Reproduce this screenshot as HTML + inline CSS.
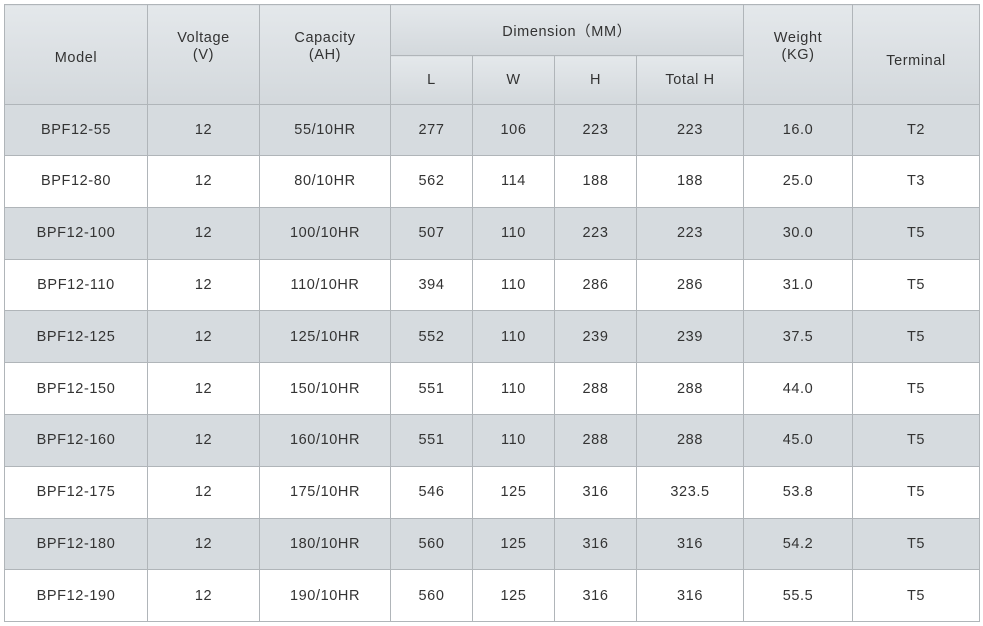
<!DOCTYPE html>
<html><head><meta charset="utf-8"><style>
body{margin:0;background:#fff;width:983px;height:626px;overflow:hidden;font-family:"Liberation Sans","DejaVu Sans",sans-serif;}
table{position:absolute;left:4px;top:4px;border-collapse:collapse;table-layout:fixed;width:975px;color:#333;font-size:14.5px;letter-spacing:0.6px;}
td,th{border:1px solid #b0b5b9;text-align:center;padding:0;font-weight:normal;}
thead th{background:linear-gradient(#e4e8eb,#d3d8dc);}
th.top{vertical-align:top;padding-top:25px;line-height:17px;}
th.mid{padding-top:6px;}
th.term{padding-top:12px;}
tbody tr.g td{background:#d6dbdf;}
tbody tr td{height:50px;}
tbody tr{border-bottom:1.5px solid #a8adb1;}
</style></head><body>
<table>
<colgroup><col style="width:143px"><col style="width:112px"><col style="width:131px"><col style="width:82px"><col style="width:82px"><col style="width:82px"><col style="width:107px"><col style="width:109px"><col style="width:127px"></colgroup>
<thead>
<tr style="height:51px">
<th rowspan="2" class="mid">Model</th>
<th rowspan="2" class="top">Voltage<br>(V)</th>
<th rowspan="2" class="top">Capacity<br>(AH)</th>
<th colspan="4">Dimension（MM）</th>
<th rowspan="2" class="top">Weight<br>(KG)</th>
<th rowspan="2" class="term">Terminal</th>
</tr>
<tr style="height:49px">
<th>L</th>
<th>W</th>
<th>H</th>
<th>Total H</th>
</tr>
</thead>
<tbody id="tb"></tbody>
</table>
<script>
const rows=[
["BPF12-55","12","55/10HR","277","106","223","223","16.0","T2"],
["BPF12-80","12","80/10HR","562","114","188","188","25.0","T3"],
["BPF12-100","12","100/10HR","507","110","223","223","30.0","T5"],
["BPF12-110","12","110/10HR","394","110","286","286","31.0","T5"],
["BPF12-125","12","125/10HR","552","110","239","239","37.5","T5"],
["BPF12-150","12","150/10HR","551","110","288","288","44.0","T5"],
["BPF12-160","12","160/10HR","551","110","288","288","45.0","T5"],
["BPF12-175","12","175/10HR","546","125","316","323.5","53.8","T5"],
["BPF12-180","12","180/10HR","560","125","316","316","54.2","T5"],
["BPF12-190","12","190/10HR","560","125","316","316","55.5","T5"]];
const tb=document.getElementById('tb');
rows.forEach((r,i)=>{
 const tr=document.createElement('tr');
 
 
 if(i%2==0)tr.className='g';
 tr.style.height=(i==0?50:51.8)+'px';
 r.forEach(v=>{const td=document.createElement('td');td.textContent=v;
 
 
 tr.appendChild(td);});
 tb.appendChild(tr);
});
</script>
</body></html>
